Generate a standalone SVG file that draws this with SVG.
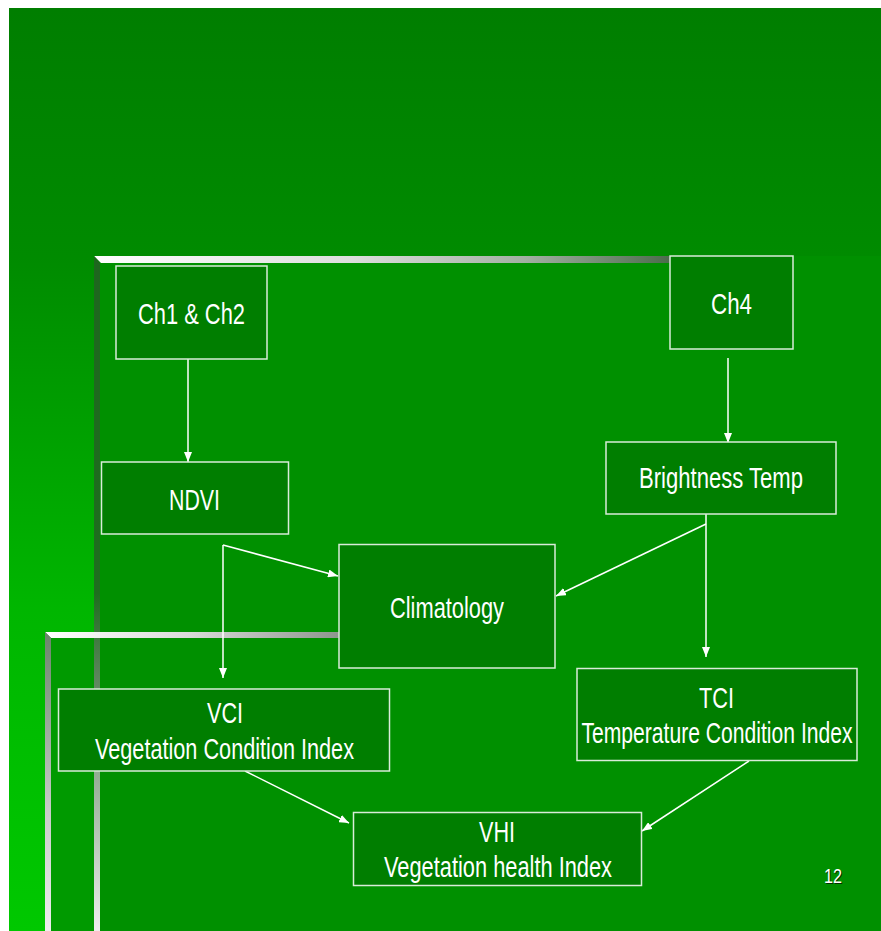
<svg xmlns="http://www.w3.org/2000/svg" width="881" height="931" viewBox="0 0 881 931">
<defs>
<linearGradient id="bg" x1="0" y1="0" x2="0" y2="1">
<stop offset="0" stop-color="#007e00"/>
<stop offset="0.27" stop-color="#008b00"/>
<stop offset="0.65" stop-color="#00b600"/>
<stop offset="1" stop-color="#00c800"/>
</linearGradient>
<linearGradient id="hbar1" x1="0" y1="0" x2="1" y2="0">
<stop offset="0" stop-color="#ffffff"/>
<stop offset="0.45" stop-color="#dcdedc"/>
<stop offset="0.75" stop-color="#a2b0a2"/>
<stop offset="1" stop-color="#4c6c4c"/>
</linearGradient>
<linearGradient id="hbar2" x1="0" y1="0" x2="1" y2="0">
<stop offset="0" stop-color="#ffffff"/>
<stop offset="0.5" stop-color="#d8dad8"/>
<stop offset="1" stop-color="#8e968e"/>
</linearGradient>
<linearGradient id="vbar1" x1="0" y1="0" x2="0" y2="1">
<stop offset="0" stop-color="#1e661e"/>
<stop offset="0.5" stop-color="#1e6e1e"/>
<stop offset="0.62" stop-color="#5a845a"/>
<stop offset="1" stop-color="#eeeeee"/>
</linearGradient>
<linearGradient id="vbar2" x1="0" y1="0" x2="0" y2="1">
<stop offset="0" stop-color="#6a846a"/>
<stop offset="0.6" stop-color="#c8ccc8"/>
<stop offset="1" stop-color="#eeeeee"/>
</linearGradient>
<marker id="ah" viewBox="0 0 10 8" refX="10" refY="4" markerWidth="10" markerHeight="8" markerUnits="userSpaceOnUse" orient="auto">
<path d="M0,0 L10,4 L0,8 z" fill="#ffffff"/>
</marker>
</defs>
<style>
.box{fill:#007e00;stroke:#d8ecd8;stroke-width:1.5}
.t{font-family:"Liberation Sans",Arial,sans-serif;font-size:29px;fill:#ffffff}
.ca{stroke:#ffffff;stroke-width:1.5;fill:none;marker-end:url(#ah)}
</style>
<rect x="0" y="0" width="881" height="931" fill="#ffffff"/>
<rect x="9" y="8" width="872" height="923" fill="url(#bg)"/>
<g id="frame">
<rect x="45" y="632" width="836" height="299" fill="#009a00"/>
<rect x="94" y="256" width="787" height="675" fill="#009000"/>
<polygon points="94,256 670,256 670,263 101,263" fill="url(#hbar1)"/>
<polygon points="94,256 100,263 100,931 94,931" fill="url(#vbar1)"/>
<polygon points="45,632 339,632 339,638 51,638" fill="url(#hbar2)"/>
<polygon points="45,632 51,638 51,931 45,931" fill="url(#vbar2)"/>
</g>
<g id="connectors">
<line class="ca" x1="188" y1="359" x2="188" y2="462"/>
<line class="ca" x1="728" y1="358" x2="728" y2="443"/>
<line class="ca" x1="223" y1="545" x2="338" y2="576"/>
<line class="ca" x1="223" y1="545" x2="223" y2="678"/>
<line class="ca" x1="706" y1="514" x2="706" y2="657"/>
<line class="ca" x1="706" y1="524" x2="556" y2="596"/>
<line class="ca" x1="245" y1="771" x2="349" y2="823"/>
<line class="ca" x1="749" y1="761" x2="642" y2="831"/>
</g>
<g id="ch12">
<rect class="box" x="116" y="266" width="151" height="93"/>
<text class="t" x="138" y="324" textLength="107" lengthAdjust="spacingAndGlyphs">Ch1 &amp; Ch2</text>
</g>
<g id="ndvi">
<rect class="box" x="101.5" y="462" width="187" height="72"/>
<text class="t" x="169" y="510" textLength="51" lengthAdjust="spacingAndGlyphs">NDVI</text>
</g>
<g id="ch4">
<rect class="box" x="670" y="256" width="123" height="93"/>
<text class="t" x="711" y="314" textLength="41" lengthAdjust="spacingAndGlyphs">Ch4</text>
</g>
<g id="btemp">
<rect class="box" x="606" y="442" width="230" height="72"/>
<text class="t" x="639" y="488" textLength="164" lengthAdjust="spacingAndGlyphs">Brightness Temp</text>
</g>
<g id="climatology">
<rect class="box" x="339" y="544.5" width="216" height="123.5"/>
<text class="t" x="390" y="618" textLength="114" lengthAdjust="spacingAndGlyphs">Climatology</text>
</g>
<g id="tci">
<rect class="box" x="577" y="668.5" width="280" height="92"/>
<text class="t" x="699" y="707.5" textLength="35" lengthAdjust="spacingAndGlyphs">TCI</text>
<text class="t" transform="translate(717,743) scale(0.728,1)" x="0" y="0" text-anchor="middle">Temperature Condition Index</text>
</g>
<g id="vci">
<rect class="box" x="58.5" y="689" width="331" height="82"/>
<text class="t" x="207" y="722.5" textLength="36" lengthAdjust="spacingAndGlyphs">VCI</text>
<text class="t" x="95" y="759" textLength="259" lengthAdjust="spacingAndGlyphs">Vegetation Condition Index</text>
</g>
<g id="vhi">
<rect class="box" x="353.5" y="812.5" width="288" height="73"/>
<text class="t" x="479" y="841.5" textLength="36" lengthAdjust="spacingAndGlyphs">VHI</text>
<text class="t" x="384" y="877" textLength="228" lengthAdjust="spacingAndGlyphs">Vegetation health Index</text>
</g>
<g id="pagenum">
<text x="825" y="883.5" font-family="Liberation Sans, Arial, sans-serif" font-size="21" fill="#003000" textLength="18" lengthAdjust="spacingAndGlyphs">12</text>
<text x="824" y="882.5" font-family="Liberation Sans, Arial, sans-serif" font-size="21" fill="#ffffff" textLength="18" lengthAdjust="spacingAndGlyphs">12</text>
</g>
</svg>
